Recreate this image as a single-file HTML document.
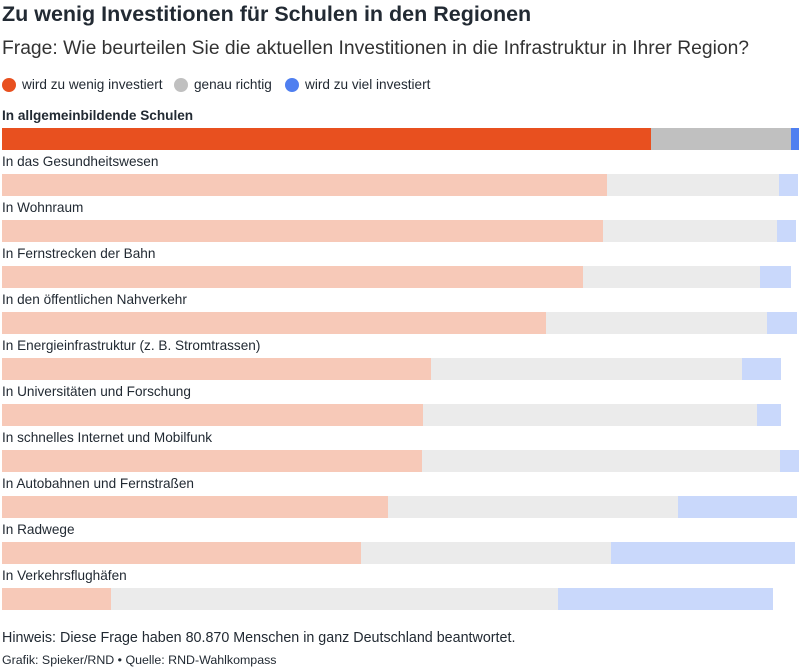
<!DOCTYPE html>
<html><head><meta charset="utf-8">
<style>
body{margin:0;width:800px;height:668px;background:#fff;font-family:"Liberation Sans",sans-serif;color:#222a33;position:relative;overflow:hidden}
.t{position:absolute;left:2px;white-space:nowrap}
#title{top:2px;font-size:21.5px;font-weight:bold}
#sub{top:38px;font-size:19.3px;color:#333}
.leg{position:absolute;top:77px;font-size:13.6px;display:flex;align-items:center}
.dot{width:14px;height:14px;border-radius:50%;margin-right:6px;display:inline-block}
.lab{font-size:13.6px}
.seg{position:absolute;height:22px}
.foot{font-size:14.3px}
</style></head><body>
<div class="t" id="title">Zu wenig Investitionen für Schulen in den Regionen</div>
<div class="t" id="sub">Frage: Wie beurteilen Sie die aktuellen Investitionen in die Infrastruktur in Ihrer Region?</div>
<div class="leg" style="left:2px"><span class="dot" style="background:#e8501f"></span>wird zu wenig investiert</div>
<div class="leg" style="left:174px"><span class="dot" style="background:#c0c0c0"></span>genau richtig</div>
<div class="leg" style="left:285px"><span class="dot" style="background:#4f7ff0"></span>wird zu viel investiert</div>
<div id="chart"></div>
<div class="t foot" style="top:630px">Hinweis: Diese Frage haben 80.870 Menschen in ganz Deutschland beantwortet.</div>
<div class="t foot" style="top:653px;font-size:12.4px">Grafik: Spieker/RND • Quelle: RND-Wahlkompass</div>
<script>
const categories=["In allgemeinbildende Schulen","In das Gesundheitswesen","In Wohnraum","In Fernstrecken der Bahn","In den öffentlichen Nahverkehr","In Energieinfrastruktur (z. B. Stromtrassen)","In Universitäten und Forschung","In schnelles Internet und Mobilfunk","In Autobahnen und Fernstraßen","In Radwege","In Verkehrsflughäfen"];
const zuWenig=[81.4,75.9,75.4,72.9,68.3,53.8,52.8,52.7,48.4,45.0,13.7];
const genauRichtig=[17.6,21.6,21.9,22.2,27.7,39.1,41.9,44.9,36.4,31.4,56.1];
const zuViel=[1.0,2.4,2.3,3.9,3.8,4.8,3.0,2.4,14.9,23.1,27.0];
const chart=document.getElementById('chart');
const x0=2,W=797;
function xs(v){return v/100*W;}
categories.forEach((c,i)=>{
  const top=106+i*46;
  const hl=i===0;
  const lab=document.createElement('div');
  lab.className='t lab';
  lab.style.top=(top+2)+'px';
  if(hl)lab.style.fontWeight='bold';
  lab.textContent=c;
  
  
  chart.appendChild(lab);
  const cols=hl?['#e8501f','#c0c0c0','#4f7ff0']:['#f7c9b8','#ebebeb','#c9d8fb'];
  const vals=[zuWenig[i],genauRichtig[i],zuViel[i]];
  const names=['bar-zu-wenig','bar-genau-richtig','bar-zu-viel'];
  let acc=0;
  vals.forEach((v,j)=>{
    const s=document.createElement('div');
    s.className='seg';
    s.style.left=(x0+xs(acc))+'px';
    s.style.width=xs(v)+'px';
    s.style.top=(top+22)+'px';
    s.style.background=cols[j];
    
    
    chart.appendChild(s);
    acc+=v;
  });
});
</script>
</body></html>
